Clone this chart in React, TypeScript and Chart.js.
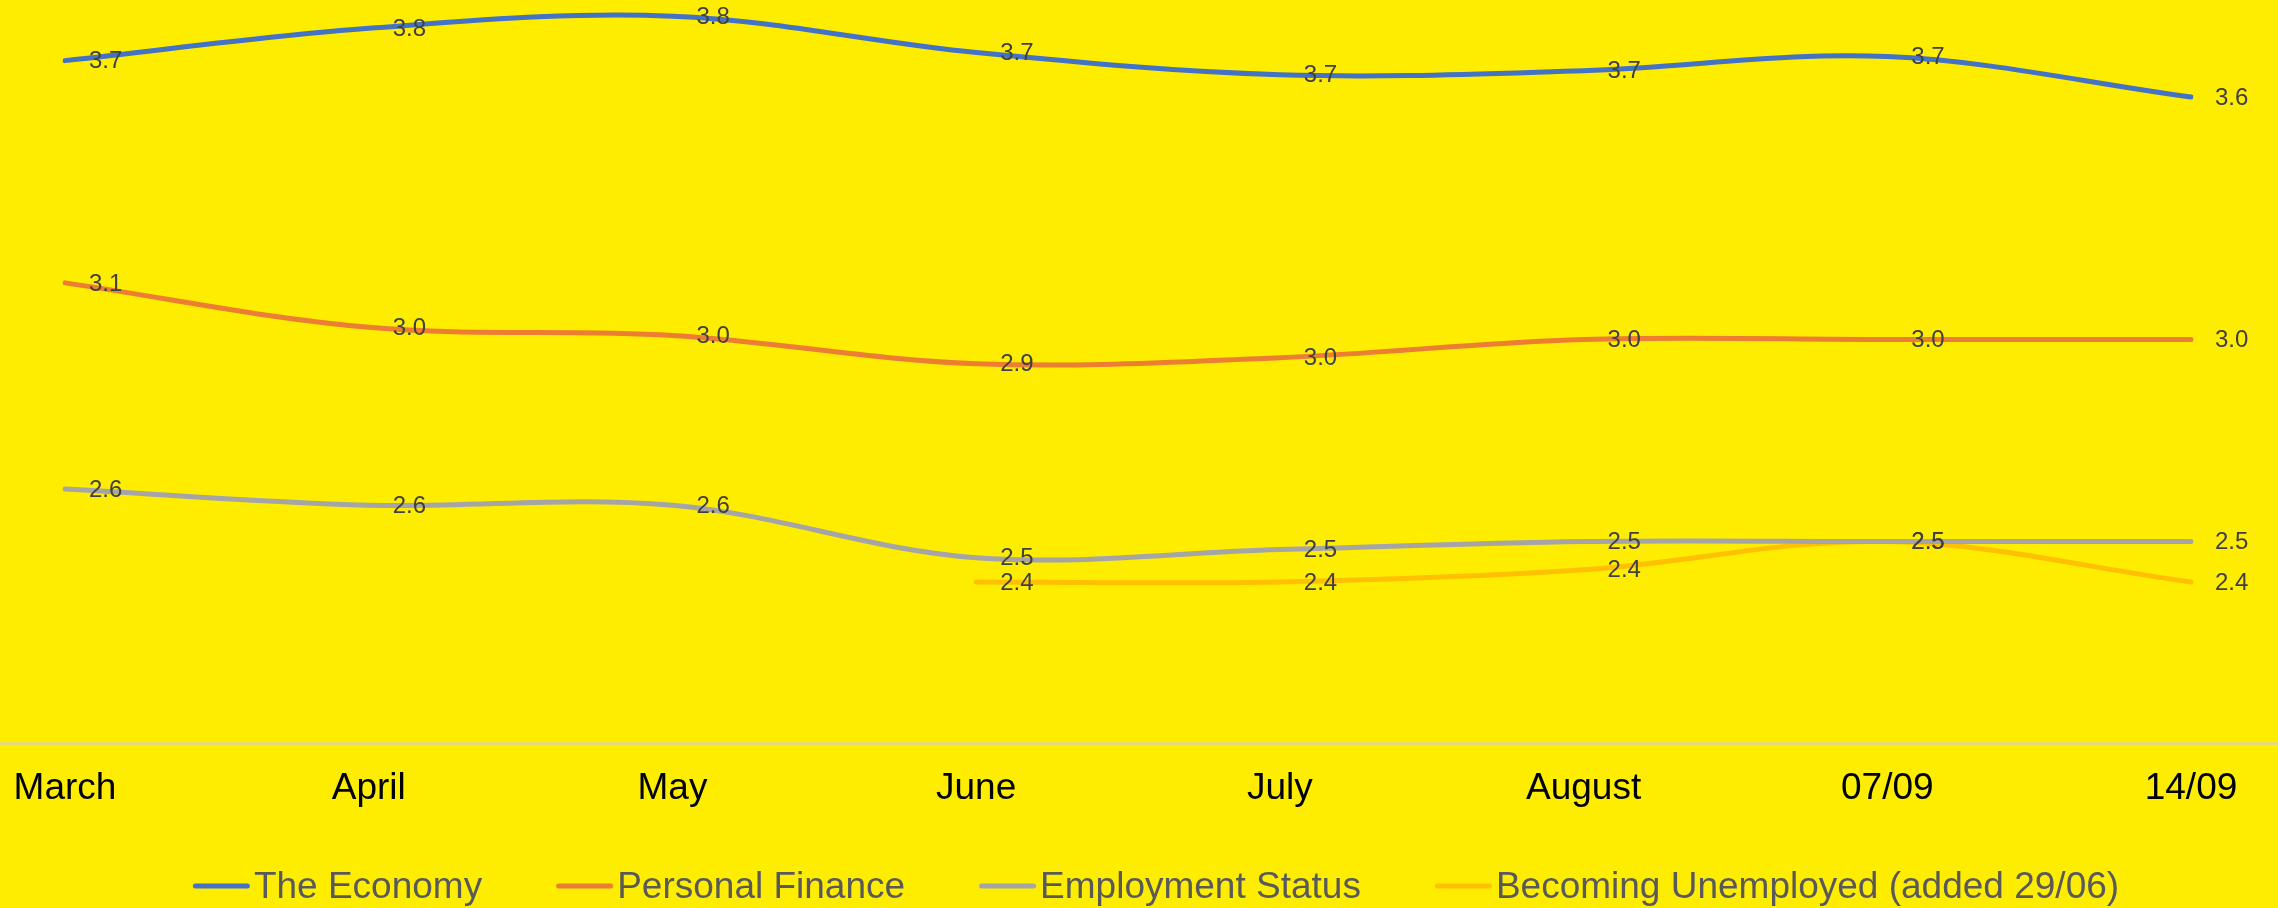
import React, { useEffect, useRef } from "react";
import { Chart, registerables } from "chart.js";

Chart.register(...registerables);

const categories = ["March", "April", "May", "June", "July", "August", "07/09", "14/09"];
const economy = [3.69, 3.77, 3.8, 3.71, 3.655, 3.665, 3.7, 3.6];
const personalFinance = [3.14, 3.03, 3.01, 2.94, 2.955, 3.0, 3.0, 3.0];
const employmentStatus = [2.63, 2.59, 2.59, 2.46, 2.48, 2.5, 2.5, 2.5];
const becomingUnemployed = [null, null, null, 2.4, 2.4, 2.43, 2.5, 2.4];

const seriesNames = ["The Economy", "Personal Finance", "Employment Status", "Becoming Unemployed (added 29/06)"];
const seriesColors = ["#4472C4", "#ED7D31", "#A5A5A5", "#FFC000"];

const BG = "#FFED00";
const FONT = "'Liberation Sans', Arial, sans-serif";

const labelsPlugin = {
  id: "valueLabels",
  afterDatasetsDraw(chart: any) {
    const ctx = chart.ctx;
    ctx.save();
    ctx.font = `24px ${FONT}`;
    ctx.fillStyle = "#404040";
    ctx.textAlign = "left";
    ctx.textBaseline = "middle";
    chart.data.datasets.forEach((ds: any, i: number) => {
      const meta = chart.getDatasetMeta(i);
      meta.data.forEach((pt: any, j: number) => {
        const v = ds.data[j];
        if (v === null || v === undefined) return;
        ctx.fillText((Math.round(Number(v) * 10) / 10).toFixed(1), pt.x + 24, pt.y + 1);
      });
    });
    ctx.restore();
  },
};

const axisLinePlugin = {
  id: "axisLine",
  beforeDatasetsDraw(chart: any) {
    const ctx = chart.ctx;
    const y = chart.chartArea.bottom;
    ctx.save();
    ctx.strokeStyle = "#DCD6A0";
    ctx.lineWidth = 2.5;
    ctx.beginPath();
    ctx.moveTo(0, y);
    ctx.lineTo(chart.width, y);
    ctx.stroke();
    ctx.restore();
  },
};

const legendPlugin = {
  id: "customLegend",
  afterDraw(chart: any) {
    const ctx = chart.ctx;
    ctx.save();
    ctx.font = `37px ${FONT}`;
    const markerW = 57;
    const markerGap = 4;
    const itemGap = 74;
    const items = chart.data.datasets.map((ds: any) => ({
      text: ds.label,
      color: ds.borderColor,
      w: ctx.measureText(ds.label).width,
    }));
    const total =
      items.reduce((s: number, it: any) => s + markerW + markerGap + it.w, 0) + itemGap * (items.length - 1);
    let x = (chart.width - total) / 2 + 17;
    const lineY = 886;
    const baseY = 898;
    items.forEach((it: any) => {
      ctx.strokeStyle = it.color;
      ctx.lineWidth = 5;
      ctx.lineCap = "round";
      ctx.beginPath();
      ctx.moveTo(x + 2.5, lineY);
      ctx.lineTo(x + markerW - 2.5, lineY);
      ctx.stroke();
      ctx.fillStyle = "#595959";
      ctx.textAlign = "left";
      ctx.textBaseline = "alphabetic";
      ctx.fillText(it.text, x + markerW + markerGap, baseY);
      x += markerW + markerGap + it.w + itemGap;
    });
    ctx.restore();
  },
};

export default function App() {
  const ref = useRef<HTMLCanvasElement>(null);

  useEffect(() => {
    document.body.style.margin = "0";
    document.body.style.background = BG;
    const series = [economy, personalFinance, employmentStatus, becomingUnemployed];
    const chart = new Chart(ref.current as HTMLCanvasElement, {
      type: "line",
      data: {
        labels: categories,
        datasets: series.map((d, i) => ({
          label: seriesNames[i],
          data: d,
          borderColor: seriesColors[i],
          backgroundColor: seriesColors[i],
          borderWidth: 5,
          borderCapStyle: "round",
          pointRadius: 0,
          pointHoverRadius: 0,
          tension: 0.35,
          fill: false,
          spanGaps: false,
        })),
      },
      options: {
        animation: false,
        responsive: false,
        devicePixelRatio: 1,
        layout: { padding: { left: 65, right: 87, top: 0, bottom: 74 } },
        plugins: {
          legend: { display: false },
          tooltip: { enabled: false },
        },
        scales: {
          x: {
            offset: false,
            grid: { display: false, drawTicks: false },
            border: { display: false },
            afterFit(scale: any) {
              scale.paddingLeft = 0;
              scale.paddingRight = 0;
            },
            ticks: {
              color: "#000000",
              font: { family: FONT, size: 37 },
              padding: 23,
              maxRotation: 0,
              autoSkip: false,
            },
          },
          y: {
            display: false,
            min: 2,
            max: 3.84,
          },
        },
      },
      plugins: [axisLinePlugin, labelsPlugin, legendPlugin],
    });
    return () => chart.destroy();
  }, []);

  return (
    <div style={{ width: 2278, height: 908, background: BG }}>
      <canvas ref={ref} width={2278} height={908} />
    </div>
  );
}
